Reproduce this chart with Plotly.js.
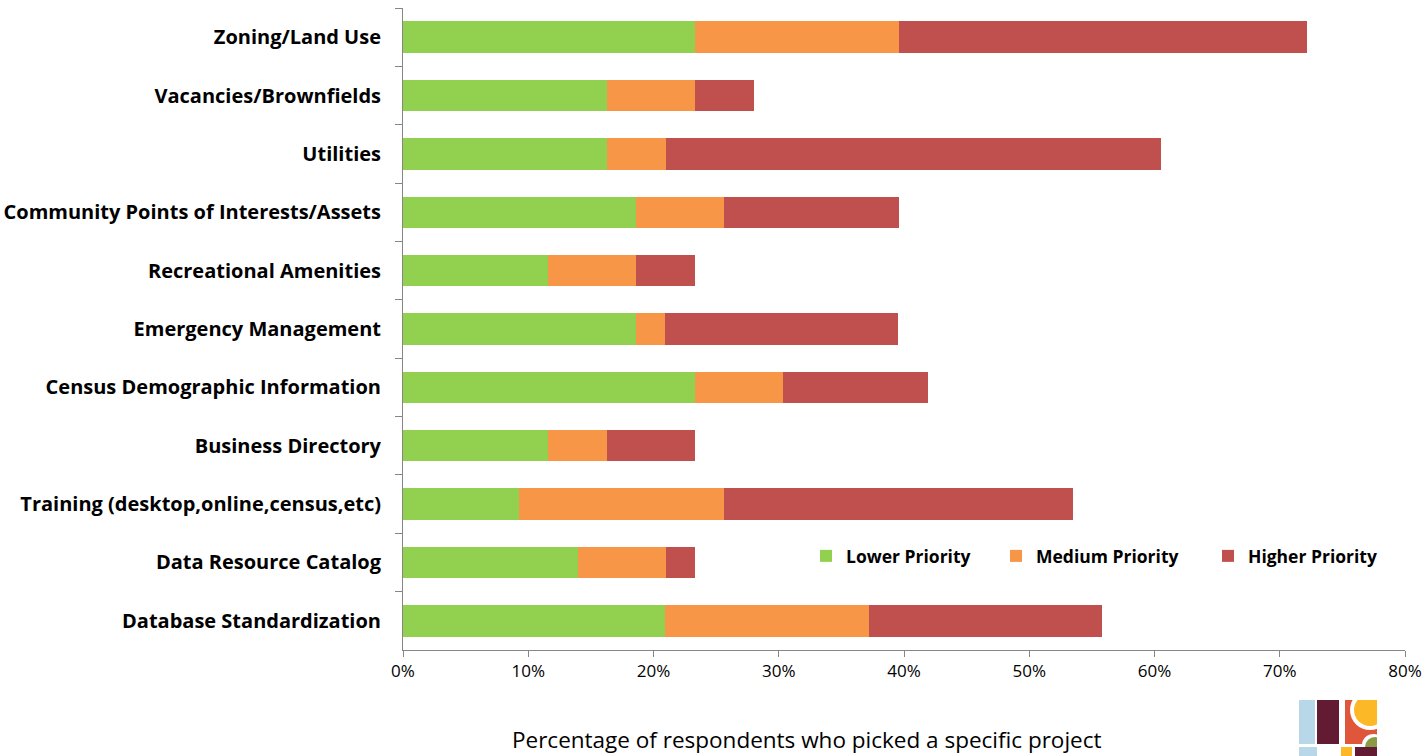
<!DOCTYPE html>
<html>
<head>
<meta charset="utf-8">
<script src="https://cdn.plot.ly/plotly-3.0.1.min.js"></script>
<style>html,body{margin:0;padding:0;background:#fff;}#chart{width:1427px;height:756px;}</style>
</head>
<body>
<div id="chart"></div>
<script>
const categories = [
  "Zoning/Land Use",
  "Vacancies/Brownfields",
  "Utilities",
  "Community Points of Interests/Assets",
  "Recreational Amenities",
  "Emergency Management",
  "Census Demographic Information",
  "Business Directory",
  "Training (desktop,online,census,etc)",
  "Data Resource Catalog",
  "Database Standardization"
];
const lowerPriority  = [23.3, 16.3, 16.3, 18.6, 11.6, 18.6, 23.3, 11.6, 9.3, 14.0, 20.9];
const mediumPriority = [16.3, 7.0, 4.7, 7.0, 7.0, 2.3, 7.0, 4.7, 16.3, 7.0, 16.3];
const higherPriority = [32.6, 4.7, 39.5, 14.0, 4.7, 18.6, 11.6, 7.0, 27.9, 2.3, 18.6];
const seriesNames = ["Lower Priority", "Medium Priority", "Higher Priority"];
const xTitle = "Percentage of respondents who picked a specific project";

const FONT = "'Open Sans', 'Liberation Sans', sans-serif";
const axisColor = "#868686";

const L = 403, R = 22, T = 8, B = 106, W = 1427, H = 756;
const pw = W - L - R, ph = H - T - B;
const px = v => (v - L) / pw;
const py = v => (H - B - v) / ph;

const traces = [
  {name: seriesNames[0], x: lowerPriority, marker: {color: "#92D050"}, legend: "legend"},
  {name: seriesNames[1], x: mediumPriority, marker: {color: "#F79646"}, legend: "legend2"},
  {name: seriesNames[2], x: higherPriority, marker: {color: "#C0504D"}, legend: "legend3"}
].map(t => Object.assign({type: "bar", orientation: "h", y: categories, hoverinfo: "x+name"}, t));

function rect(x0, y0, x1, y1, color) {
  return {type: "rect", xref: "paper", yref: "paper", x0: px(x0), x1: px(x1), y0: py(y1), y1: py(y0),
          fillcolor: color, line: {width: 0}, layer: "above"};
}
function circ(x0, y0, x1, y1, color) {
  return {type: "circle", xref: "paper", yref: "paper", x0: px(x0), x1: px(x1), y0: py(y1), y1: py(y0),
          fillcolor: color, line: {width: 0}, layer: "above"};
}
const logo = [
  rect(1299, 700, 1315, 744, "#B8D8EA"),
  rect(1299, 747, 1317, 756, "#B8D8EA"),
  rect(1317, 700, 1339, 744, "#621B33"),
  rect(1345, 700, 1377, 744, "#E0563B"),
  circ(1350, 690, 1390, 730, "#FFFFFF"),
  circ(1354, 694, 1386, 726, "#FDB827"),
  rect(1377, 690, 1395, 744, "#FFFFFF"),
  rect(1340, 688, 1395, 700, "#FFFFFF"),
  circ(1362, 734, 1385, 756, "#FFFFFF"),
  circ(1365, 737, 1385, 757, "#8A9A45"),
  rect(1377, 730, 1395, 756, "#FFFFFF"),
  rect(1341, 747, 1352, 756, "#FDB827"),
  rect(1355, 747, 1377, 756, "#621B33")
];

const legendBase = {orientation: "h", yanchor: "middle", xanchor: "left", y: py(556),
  font: {family: FONT, size: 17.5, color: "#000", weight: "bold"}, bgcolor: "rgba(0,0,0,0)",
  itemwidth: 30, tracegroupgap: 0};

const layout = {
  width: W, height: H,
  margin: {l: L, r: R, t: T, b: B, pad: 0},
  paper_bgcolor: "#fff", plot_bgcolor: "#fff",
  barmode: "stack", bargap: 0.46,
  showlegend: true,
  legend: Object.assign({}, legendBase, {x: px(806)}),
  legend2: Object.assign({}, legendBase, {x: px(996)}),
  legend3: Object.assign({}, legendBase, {x: px(1208)}),
  xaxis: {
    range: [0, 80], dtick: 10, tick0: 0, ticksuffix: "%",
    showgrid: false, zeroline: false, showline: true, linecolor: axisColor, linewidth: 1,
    ticks: "outside", ticklen: 6, tickcolor: axisColor,
    tickfont: {family: FONT, size: 17, color: "#000"},
    fixedrange: true
  },
  yaxis: {
    type: "category", categoryorder: "array", categoryarray: categories, autorange: "reversed",
    showgrid: false, zeroline: false, showline: true, linecolor: axisColor, linewidth: 1,
    ticks: "outside", ticklen: 7, tickcolor: axisColor, tickson: "boundaries",
    ticklabelstandoff: 17,
    tickfont: {family: FONT, size: 20, color: "#000", weight: "bold"},
    fixedrange: true
  },
  annotations: [{
    text: xTitle, xref: "paper", yref: "paper", x: px(807), y: py(756),
    xanchor: "center", yanchor: "bottom", showarrow: false, borderpad: 0,
    font: {family: FONT, size: 22.5, color: "#000"}
  }],
  shapes: logo
};

Plotly.newPlot("chart", traces, layout, {displayModeBar: false, staticPlot: true});
</script>
</body>
</html>
